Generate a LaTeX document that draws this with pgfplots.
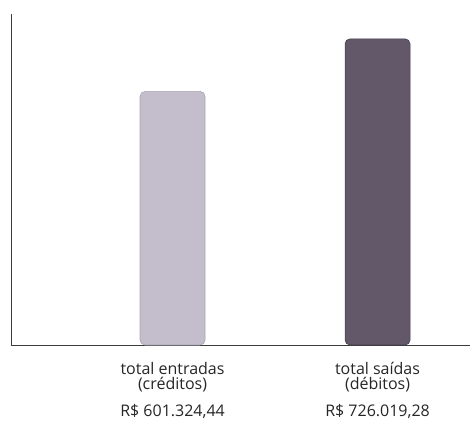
\documentclass[border=0pt]{standalone}
\usepackage{fontspec}
\setmainfont{Open Sans}
\usepackage{pgfplots}
\pgfplotsset{compat=1.18}

\definecolor{entrada}{RGB}{196,190,204}
\definecolor{entradaedge}{RGB}{170,164,180}
\definecolor{saida}{RGB}{98,88,106}
\definecolor{saidaedge}{RGB}{68,60,76}
\definecolor{axisgray}{RGB}{60,60,60}

\begin{document}
\begin{tikzpicture}
  \begin{axis}[
      at={(0,0)}, anchor=south west,
      width=459pt, height=331pt,
      scale only axis,
      xmin=0.212, xmax=2.451,
      ymin=0, ymax=785000,
      axis x line*=bottom,
      axis y line*=left,
      axis line style={-, axisgray, line width=0.7pt},
      ytick=\empty,
      xtick={1,2},
      major tick length=0pt,
      xticklabels={
        {total entradas\\(créditos)\\[12pt]R\$ 601.324,44},
        {total saídas\\(débitos)\\[12pt]R\$ 726.019,28}
      },
      xticklabel style={align=center, font=\fontsize{16}{15}\selectfont, text=black!85, yshift=-14pt},
      ybar,
      bar width=65pt,
      bar shift=0pt,
      clip=false,
    ]
    \addplot[fill=entrada, draw=entradaedge, line width=0.6pt, rounded corners=5pt]
      coordinates {(1,601324.44)};
    \addplot[fill=saida, draw=saidaedge, line width=0.6pt, rounded corners=5pt]
      coordinates {(2,726019.28)};
  \end{axis}
  \pgfresetboundingbox
  \path[use as bounding box] (-11pt,-79pt) rectangle (459pt,345pt);
\end{tikzpicture}
\end{document}
